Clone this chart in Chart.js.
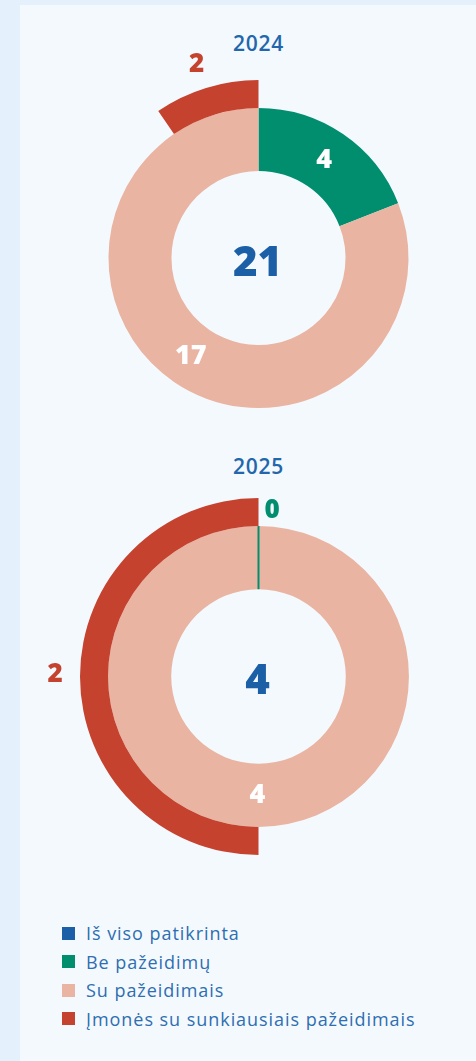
<!DOCTYPE html>
<html lang="lt">
<head>
<meta charset="utf-8">
<title>Patikrinimai</title>
<script src="https://cdn.jsdelivr.net/npm/chart.js@4.4.1/dist/chart.umd.min.js"></script>
<style>
  html, body { margin: 0; padding: 0; }
  body {
    width: 476px; height: 1061px; overflow: hidden;
    background: #e4f1fc; position: relative;
    font-family: "Open Sans", "Noto Sans", sans-serif;
  }
  .panel {
    position: absolute; left: 20px; top: 5px; width: 456px; height: 1056px;
    background: #f4f9fe;
  }
  canvas { position: absolute; left: 20px; }
  #chart2024 { top: 20px; }
  #chart2025 { top: 440px; }
  .year {
    position: absolute; left: 20px; width: 477px; text-align: center;
    color: #2266ac; font-size: 21px; font-weight: 600; letter-spacing: 0.8px; line-height: 26px;
  }
  #legend {
    position: absolute; left: 62px; top: 919px; list-style: none; margin: 0; padding: 0;
  }
  #legend li {
    height: 28.5px; line-height: 28px; font-size: 18px; color: #2e6eb1; letter-spacing: 0.95px;
    display: flex; align-items: center;
  }
  #legend span.box { width: 13px; height: 13px; margin-right: 11px; display: inline-block; }
</style>
</head>
<body>
<div class="panel"></div>
<div class="year" style="top:30px">2024</div>
<canvas id="chart2024" width="456" height="420"></canvas>
<div class="year" style="top:453px">2025</div>
<canvas id="chart2025" width="456" height="440"></canvas>
<ul id="legend"></ul>

<script>
const years = ['2024', '2025'];
const legendLabels = ['Iš viso patikrinta', 'Be pažeidimų', 'Su pažeidimais', 'Įmonės su sunkiausiais pažeidimais'];
const totalChecked = [21, 4];
const noViolations = [4, 0];
const withViolations = [17, 4];
const severeViolations = [2, 2];

const BLUE = '#1b5fa7';
const GREEN = '#008e6f';
const PINK = '#e9b4a1';
const RED = '#c5422f';
const legendColors = [BLUE, GREEN, PINK, RED];
const NUM_FONT = '"Open Sans"';

// numbers on the arcs, the total in the middle, and a hairline for empty slices
const arcLabels = {
    id: 'arcLabels',
    afterDatasetsDraw(chart) {
        const ctx = chart.ctx;
        ctx.save();
        ctx.textAlign = 'center';
        ctx.textBaseline = 'middle';
        chart.data.datasets.forEach((ds, di) => {
            const meta = chart.getDatasetMeta(di);
            meta.data.forEach((arc, i) => {
                const v = ds.data[i];
                const pos = ds.labelPos[i];
                const p = arc.getProps(['x', 'y', 'startAngle', 'endAngle', 'innerRadius', 'outerRadius'], true);
                if (v === 0) {
                    const a = p.startAngle;
                    ctx.strokeStyle = ds.backgroundColor[i];
                    ctx.lineWidth = 2;
                    ctx.beginPath();
                    ctx.moveTo(p.x + Math.cos(a) * p.innerRadius, p.y + Math.sin(a) * p.innerRadius);
                    ctx.lineTo(p.x + Math.cos(a) * p.outerRadius, p.y + Math.sin(a) * p.outerRadius);
                    ctx.stroke();
                    const r = p.outerRadius + 15;
                    ctx.fillStyle = ds.backgroundColor[i];
                    ctx.font = '800 26px ' + NUM_FONT;
                    ctx.textAlign = 'left';
                    ctx.fillText(v, p.x + Math.cos(a) * r + 6, p.y + Math.sin(a) * r);
                    ctx.textAlign = 'center';
                    return;
                }
                if (pos === 'inside') {
                    const c = arc.tooltipPosition(true);
                    ctx.fillStyle = '#ffffff';
                    ctx.font = '800 27px ' + NUM_FONT;
                    ctx.fillText(v, c.x - 1, c.y);
                } else if (pos === 'outside') {
                    const mid = (p.startAngle + p.endAngle) / 2;
                    const r = p.outerRadius + 22;
                    ctx.fillStyle = ds.backgroundColor[i];
                    ctx.font = '800 26px ' + NUM_FONT;
                    ctx.fillText(v, p.x + Math.cos(mid) * r - 3, p.y + Math.sin(mid) * r - 2);
                }
            });
        });
        const area = chart.chartArea;
        ctx.fillStyle = BLUE;
        ctx.font = '800 42px ' + NUM_FONT;
        ctx.fillText(chart.options.plugins.centerTotal, (area.left + area.right) / 2 - 1, (area.top + area.bottom) / 2 + 6);
        ctx.restore();
    }
};

function drawYear(idx, canvasId, padding) {
    const ctx = document.getElementById(canvasId).getContext('2d');
    const severe = severeViolations[idx];
    new Chart(ctx, {
        type: 'doughnut',
        data: {
            labels: ['', legendLabels[3], legendLabels[1], legendLabels[2]],
            datasets: [
                {
                    data: [totalChecked[idx] - severe, severe],
                    backgroundColor: ['rgba(0,0,0,0)', RED],
                    labelPos: [null, 'outside'],
                    weight: 28
                },
                {
                    data: [noViolations[idx], withViolations[idx]],
                    backgroundColor: [GREEN, PINK],
                    labelPos: ['inside', 'inside'],
                    weight: 63
                }
            ]
        },
        options: {
            responsive: false,
            animation: false,
            cutout: '48.9%',
            borderWidth: 0,
            layout: { padding: padding },
            plugins: {
                legend: { display: false },
                tooltip: { enabled: false },
                centerTotal: totalChecked[idx]
            }
        },
        plugins: [arcLabels]
    });
}

drawYear(0, 'chart2024', { left: 60.5, right: 39.5, top: 60, bottom: 4 });
drawYear(1, 'chart2025', { left: 60, right: 39, top: 58, bottom: 25 });

const legend = document.getElementById('legend');
legendLabels.forEach((label, i) => {
    const li = document.createElement('li');
    const box = document.createElement('span');
    box.className = 'box';
    box.style.background = legendColors[i];
    li.appendChild(box);
    li.appendChild(document.createTextNode(label));
    legend.appendChild(li);
});
</script>
</body>
</html>
